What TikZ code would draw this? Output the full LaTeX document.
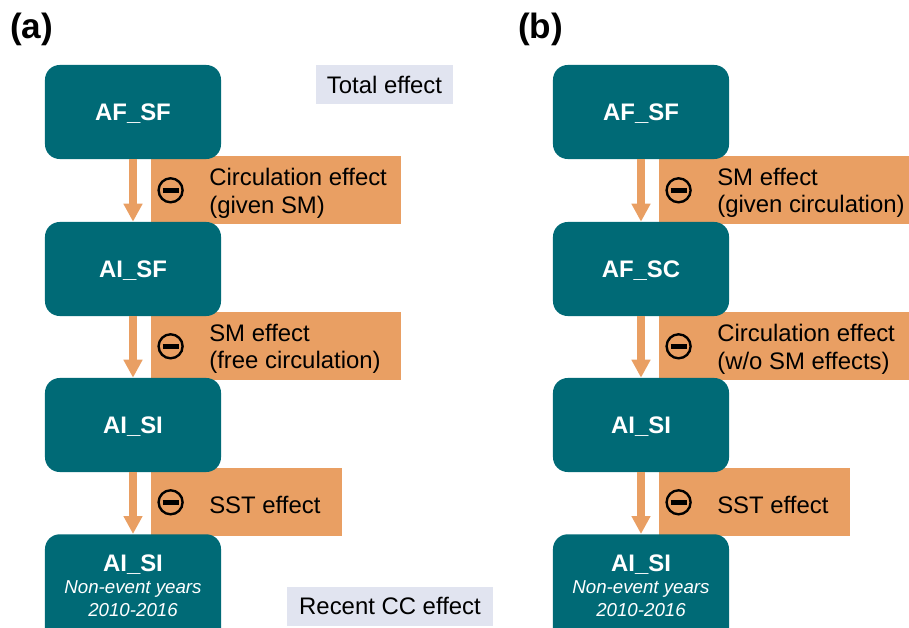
\documentclass[tikz,border=0pt]{standalone}
\usepackage{fontspec}
\setmainfont{Liberation Sans}
\usetikzlibrary{arrows.meta, positioning}
\definecolor{modelteal}{RGB}{0,106,118}
\definecolor{effectorange}{RGB}{233,159,99}
\definecolor{notegrey}{RGB}{225,228,240}
\newcommand{\nonevent}{\normalfont\itshape\fontsize{13.3}{15.6}\selectfont}

\begin{document}
\begin{tikzpicture}[x = .025cm, y = -.025cm,
	model/.style = {rectangle, rounded corners = 10.5pt, fill = modelteal, text = white, align = center, minimum width = 4.4cm, minimum height = 2.35cm, text depth = 0, font = \fontsize{17}{20}\selectfont\bfseries},
	effect/.style = {rectangle, fill = effectorange, minimum height = 1.7cm, anchor = north west, inner sep = 0},
	efftext/.style = {anchor = west, align = left, inner sep = 0, yshift = -2pt, font = \fontsize{17}{19.5}\selectfont},
	neg/.style = {circle, draw, line width = 1.7pt, minimum size = .6cm, inner sep = 0, path picture = {\draw [line width = 3.5pt] ([xshift = -.2cm]path picture bounding box.center) -- ([xshift = .2cm]path picture bounding box.center);}},
	note/.style = {fill = notegrey, minimum height = .975cm, inner sep = 0, font = \fontsize{17}{19.5}\selectfont},
	flow/.style = {draw = effectorange, line width = 5pt, -{Triangle[width = .45cm, length = .45cm]}}
]
	\useasboundingbox (0, 0) rectangle (909, 627);
	\foreach \dx/\p/\mb/\ea/\eb in {0/a/AI\_SF/{Circulation effect\\(given SM)}/{SM effect\\(free circulation)}, 508/b/AF\_SC/{SM effect\\(given circulation)}/{Circulation effect\\(w/o SM effects)}}{
		\node [anchor = base west, inner sep = 0, font = \fontsize{25}{30}\selectfont\bfseries] (t\p) at (10+\dx, 38) {(\p)};
		\node [effect, minimum width = 6.25cm] (e\p1) at (151+\dx, 156) {};
		\node [effect, minimum width = 6.25cm] (e\p2) at (151+\dx, 312) {};
		\node [effect, minimum width = 4.775cm] (e\p3) at (151+\dx, 468) {};
		\node [model] (m\p1) at (133+\dx, 112) {AF\_SF};
		\node [model] (m\p2) at (133+\dx, 269) {\mb};
		\node [model] (m\p3) at (133+\dx, 425) {AI\_SI};
		\node [model, anchor = north, minimum height = 2.8cm] (m\p4) at (133+\dx, 534) {};
		\node [text = white, align = center, inner sep = 0, font = \fontsize{17}{20}\selectfont\bfseries] (l\p4) at (133+\dx, 586) {AI\_SI\\[-4.3pt]\nonevent Non-event years\\[-3.6pt]\nonevent 2010-2016};
		\foreach \i/\t in {1/\ea, 2/\eb, 3/SST effect}{
			\node [neg] (n\p\i) at ([xshift = .49cm]e\p\i.west) {};
			\node [efftext] (x\p\i) at ([xshift = 1.45cm]e\p\i.west) {\t};
		};
		\draw [flow] (m\p1) -- (m\p2);
		\draw [flow] (m\p2) -- (m\p3);
		\draw [flow] (m\p3) -- (m\p4);
	};
	\node [note, minimum width = 3.425cm] (total) at (384.5, 84.5) {Total effect};
	\node [note, minimum width = 5.15cm] (recent) at (390, 606) {Recent CC effect};
\end{tikzpicture}
\end{document}
